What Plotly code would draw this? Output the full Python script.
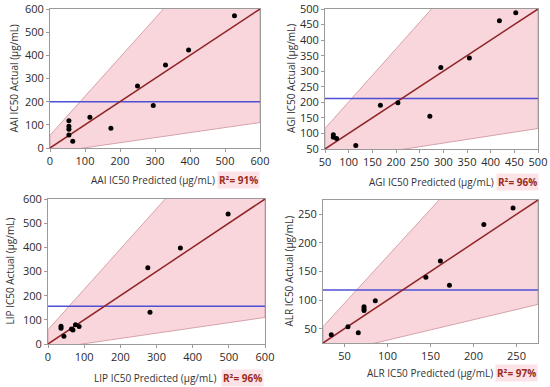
import plotly.graph_objects as go

# ---------------- data ----------------
names = ["AAI", "AGI", "LIP", "ALR"]
r2_labels = ["91%", "96%", "96%", "97%"]

aai_pred = [54, 54, 54, 54, 65, 114, 174, 250, 295, 330, 396, 527]
aai_act = [118, 94, 81, 56, 29, 133, 85, 268, 183, 358, 423, 571]

agi_pred = [67.6, 67.6, 74.6, 115, 167, 204, 271.5, 294.7, 355, 418.5, 453]
agi_act = [96, 87.5, 84, 61, 191, 199, 155, 311.6, 342.6, 462.6, 488]

lip_pred = [36, 36, 44, 65, 69, 76, 86, 276, 282, 366, 498]
lip_act = [73, 65, 32, 62, 58, 80, 72, 316, 131, 397, 538]

alr_pred = [34.6, 54, 66, 72.7, 72.7, 72.7, 85.8, 144.6, 161.5, 172, 212, 246]
alr_act = [39.5, 53.5, 43, 88.5, 85, 81.6, 99, 140, 168.5, 126, 232, 261]

mean_actual = [200, 212, 156, 117.6]
axis_ranges = [[0, 600], [50, 500], [0, 600], [25, 275]]
tick_vals = [
    [0, 100, 200, 300, 400, 500, 600],
    [50, 100, 150, 200, 250, 300, 350, 400, 450, 500],
    [0, 100, 200, 300, 400, 500, 600],
    [50, 100, 150, 200, 250],
]
# confidence band edges: value at range start / range end
band_upper = [[55, 1064], [116, 884], [59, 1061], [53.5, 463.7]]
band_lower = [[-20.7, 110], [10.3, 116], [-20.4, 110], [3.3, 92.5]]

preds = [aai_pred, agi_pred, lip_pred, alr_pred]
acts = [aai_act, agi_act, lip_act, alr_act]

# ---------------- layout geometry ----------------
W, H = 550, 387
# plot area pixel boxes: (x0, x1, ytop, ybottom)
boxes = [(50, 260, 9, 148), (325, 538, 9, 149), (48, 265, 199, 344), (323, 538, 200, 343)]
xtitle_pos = [(153, 180), (431, 182), (155, 378), (430, 373)]
r2_pos = [(238, 180), (517, 182), (242, 378), (516, 373)]
ytitle_pos = [13, 291, 9, 288]

FONT = "Open Sans"
fig = go.Figure()
layout = dict(
    width=W, height=H, margin=dict(l=0, r=0, t=0, b=0, autoexpand=False),
    paper_bgcolor="white", plot_bgcolor="white", showlegend=False,
    font=dict(family=FONT, size=10, color="#333"),
)
annotations = []
for i in range(4):
    ax = "" if i == 0 else str(i + 1)
    xa, ya = "x" + ax, "y" + ax
    x0, x1, yt, yb = boxes[i]
    lo, hi = axis_ranges[i]
    common = dict(range=[lo, hi], showgrid=False, zeroline=False, showline=True,
                  linecolor="#9a9a9a", linewidth=1, mirror=True, ticks="outside",
                  ticklen=3, tickcolor="#9a9a9a", tickvals=tick_vals[i], automargin=False,
                  tickfont=dict(family=FONT, size=11, color="#2a2a2a"))
    layout["xaxis" + ax] = dict(common, domain=[x0 / W, x1 / W], anchor=ya)
    layout["yaxis" + ax] = dict(common, domain=[1 - yb / H, 1 - yt / H], anchor=xa)

    # confidence band
    fig.add_trace(go.Scatter(
        x=[lo, hi, hi, lo, lo],
        y=[band_lower[i][0], band_lower[i][1], band_upper[i][1], band_upper[i][0], band_lower[i][0]],
        mode="lines", fill="toself", fillcolor="rgba(247,200,208,0.75)",
        line=dict(color="#d6a2a9", width=1), xaxis=xa, yaxis=ya, hoverinfo="skip"))
    # mean line
    fig.add_trace(go.Scatter(x=[lo, hi], y=[mean_actual[i]] * 2, mode="lines",
                             line=dict(color="#4f4fd6", width=1.5), xaxis=xa, yaxis=ya))
    # fit line (actual = predicted)
    fig.add_trace(go.Scatter(x=[lo, hi], y=[lo, hi], mode="lines",
                             line=dict(color="#8e2424", width=1.5), xaxis=xa, yaxis=ya))
    # points
    fig.add_trace(go.Scatter(x=preds[i], y=acts[i], mode="markers",
                             marker=dict(color="black", size=5), xaxis=xa, yaxis=ya))

    n = names[i]
    annotations.append(dict(text=f"{n} IC50 Predicted (µg/mL)", x=xtitle_pos[i][0] / W,
                            y=1 - xtitle_pos[i][1] / H, xref="paper", yref="paper",
                            xanchor="center", yanchor="middle",
                            showarrow=False, font=dict(size=10, color="#333")))
    annotations.append(dict(text=f"<b>R²= {r2_labels[i]}</b>", x=r2_pos[i][0] / W,
                            y=1 - r2_pos[i][1] / H, xref="paper", yref="paper",
                            xanchor="center", yanchor="middle",
                            showarrow=False, bgcolor="rgba(250,220,225,0.8)", borderpad=1,
                            font=dict(size=10, color="#9c2b1c")))
    annotations.append(dict(text=f"{n} IC50 Actual (µg/mL)", x=ytitle_pos[i] / W,
                            y=1 - ((yt + yb) / 2) / H, xref="paper", yref="paper",
                            xanchor="center", yanchor="middle",
                            textangle=-90, showarrow=False, font=dict(size=10, color="#333")))

layout["annotations"] = annotations
fig.update_layout(**layout)
fig.write_html("out.html", config={"displayModeBar": False},
               post_script="document.body.style.margin='0';document.body.style.overflow='hidden';")
